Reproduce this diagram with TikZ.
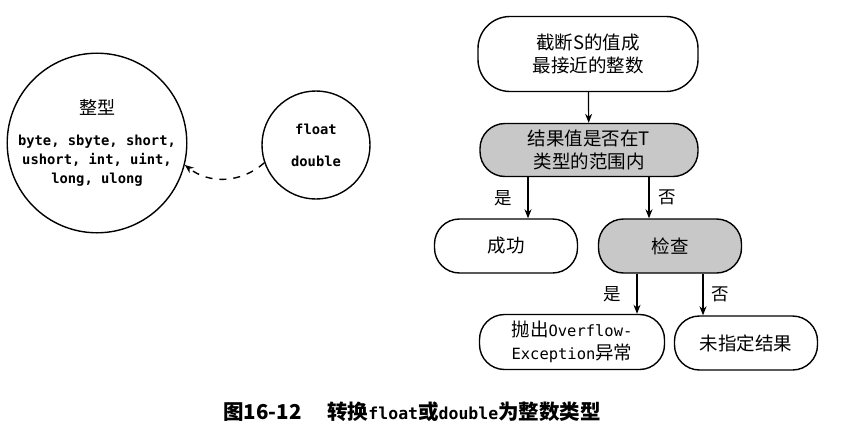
\documentclass[tikz,border=0pt]{standalone}
\usepackage{fontspec}
\setmainfont{Noto Sans CJK SC}
\newfontfamily\codefont{DejaVu Sans Mono}
\usetikzlibrary{
    positioning,
    arrows.meta
}
\definecolor{boxGray}{RGB}{200, 200, 200}

\tikzset{
    flowbox/.style={draw, line width=1.4pt, rounded corners=25pt, minimum width=143pt,
        minimum height=54pt, align=center, inner sep=2pt,
        font=\fontsize{18.5}{23}\selectfont},
    grayflow/.style={flowbox, fill=boxGray},
    typecircle/.style={draw, circle, line width=1.4pt, align=center, inner sep=0pt,
        font=\codefont\bfseries\fontsize{13.8}{19}\selectfont},
    answer/.style={inner sep=0pt, font=\fontsize{17.5}{20}\selectfont},
    flowarrow/.style={->, line width=1.2pt}
}

\begin{document}
\begin{tikzpicture}[x=1pt, y=-1pt, >={Stealth[length=9pt, width=7pt]}]
        \useasboundingbox (0,0) rectangle (846,431);

        % Type circles
        \node[typecircle, minimum size=176pt] (intCircle) at (97,143)
            {{\rmfamily\mdseries\fontsize{18}{22}\selectfont 整型}\\[12pt]
             byte, sbyte, short,\\ ushort, int, uint,\\ long, ulong};
        \node[typecircle, minimum size=108pt] (fpCircle) at (316,145) {float\\[13pt]double};
        \draw[->, line width=1.4pt, dash pattern=on 7pt off 7pt] (fpCircle.199) to[bend left=40] (intCircle.346);

        % Flowchart
        \node[flowbox, minimum width=220pt, minimum height=75pt, rounded corners=32pt]
            (truncBox) at (588,54) {截断S的值成\\最接近的整数};
        \node[grayflow, minimum width=218pt, minimum height=53pt] (rangeBox) at (589,150)
            {结果值是否在T\\类型的范围内};
        \node[flowbox] (okBox) at (506,246) {成功};
        \node[grayflow] (checkBox) at (670,246) {检查};
        \node[flowbox, minimum width=185pt, minimum height=55pt] (throwBox) at (572,342)
            {抛出{\codefont\fontsize{15.5}{18}\selectfont Overflow-}\\{\codefont\fontsize{15.5}{18}\selectfont Exception}异常};
        \node[flowbox] (unspecBox) at (746,343) {未指定结果};

        \draw[flowarrow] (truncBox) -- (rangeBox);
        \draw[flowarrow] ([xshift=-61pt]rangeBox.south) -- ([xshift=-61pt]rangeBox.south |- okBox.north)
            node[answer, midway, left=15pt] {是};
        \draw[flowarrow] ([xshift=60pt]rangeBox.south) -- ([xshift=60pt]rangeBox.south |- checkBox.north)
            node[answer, midway, right=9pt] {否};
        \draw[flowarrow] ([xshift=-33pt]checkBox.south) -- ([xshift=-33pt]checkBox.south |- throwBox.north)
            node[answer, midway, left=15pt] {是};
        \draw[flowarrow] ([xshift=33pt]checkBox.south) -- ([xshift=33pt]checkBox.south |- unspecBox.north)
            node[answer, midway, right=8pt] {否};

        % Caption
        \node[anchor=west, inner sep=0pt, font=\bfseries\fontsize{20.5}{24}\selectfont] (caption) at (223,412)
            {图16-12\hspace{26pt}转换{\codefont\fontsize{16.5}{20}\selectfont float}或{\codefont\fontsize{16.5}{20}\selectfont double}为整数类型};
\end{tikzpicture}
\end{document}
